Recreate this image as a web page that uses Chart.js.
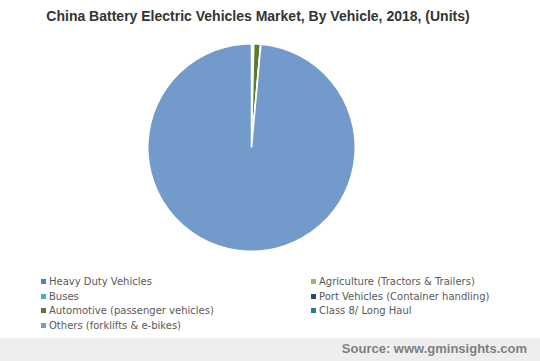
<!DOCTYPE html>
<html>
<head>
<meta charset="utf-8">
<script src="https://cdn.jsdelivr.net/npm/chart.js@4"></script>
<style>
  html, body { margin: 0; padding: 0; background: #ffffff; }
  #wrap { position: relative; width: 540px; height: 361px; overflow: hidden; }
  #title {
    position: absolute; left: 0; top: 8px; width: 516px; text-align: center;
    font: bold 14px "Liberation Sans", Arial, sans-serif; color: #333333;
  }
  #chart-box { position: absolute; left: 0; top: 43px; width: 503px; height: 209px; }
  #legend {
    position: absolute; left: 41px; top: 275px; width: 480px;
    display: grid; grid-template-columns: 270px 210px; row-gap: 0.5px;
    font: 10px "DejaVu Sans", Verdana, sans-serif; color: #595959;
  }
  #legend .item { height: 14px; line-height: 14px; white-space: nowrap; }
  #legend .sw { display: inline-block; width: 5px; height: 5px; margin-right: 3px; vertical-align: 1px; }
  #footer {
    position: absolute; left: 0; top: 338px; width: 540px; height: 23px; background: #eeeeee;
  }
  #source {
    position: absolute; right: 13px; top: 3px;
    font: bold 13px "Liberation Sans", Arial, sans-serif; color: #7f7f7f;
  }
</style>
</head>
<body>
<div id="wrap">
  <div id="title">China Battery Electric Vehicles Market, By Vehicle, 2018, (Units)</div>
  <div id="chart-box"><canvas id="pieChart"></canvas></div>
  <div id="legend"></div>
  <div id="footer"><div id="source">Source: www.gminsights.com</div></div>
</div>
<script>
  // Chart data
  const categories = [
    'Heavy Duty Vehicles',
    'Agriculture (Tractors & Trailers)',
    'Buses',
    'Port Vehicles (Container handling)',
    'Automotive (passenger vehicles)',
    'Class 8/ Long Haul',
    'Others (forklifts & e-bikes)'
  ];
  const units = [120, 40, 150, 40, 1050, 40, 98560];
  const sliceColors = ['#4f81bd', '#9bbb59', '#4bacc6', '#1f497d', '#5f7a2e', '#2c7d8a', '#729bcc'];

  const ctx = document.getElementById('pieChart').getContext('2d');
  new Chart(ctx, {
    type: 'pie',
    data: {
      labels: categories,
      datasets: [{
        data: units,
        backgroundColor: sliceColors,
        borderColor: '#ffffff',
        borderWidth: 1.5
      }]
    },
    options: {
      responsive: true,
      maintainAspectRatio: false,
      animation: false,
      layout: { padding: 0 },
      plugins: {
        legend: { display: false },
        tooltip: { enabled: false }
      }
    }
  });

  // HTML legend, two columns, row by row
  const legendEl = document.getElementById('legend');
  categories.forEach((name, i) => {
    const div = document.createElement('div');
    div.className = 'item';
    div.innerHTML = `<span class="sw" style="background:${sliceColors[i]}"></span>${name}`;
    legendEl.appendChild(div);
  });
</script>
</body>
</html>
